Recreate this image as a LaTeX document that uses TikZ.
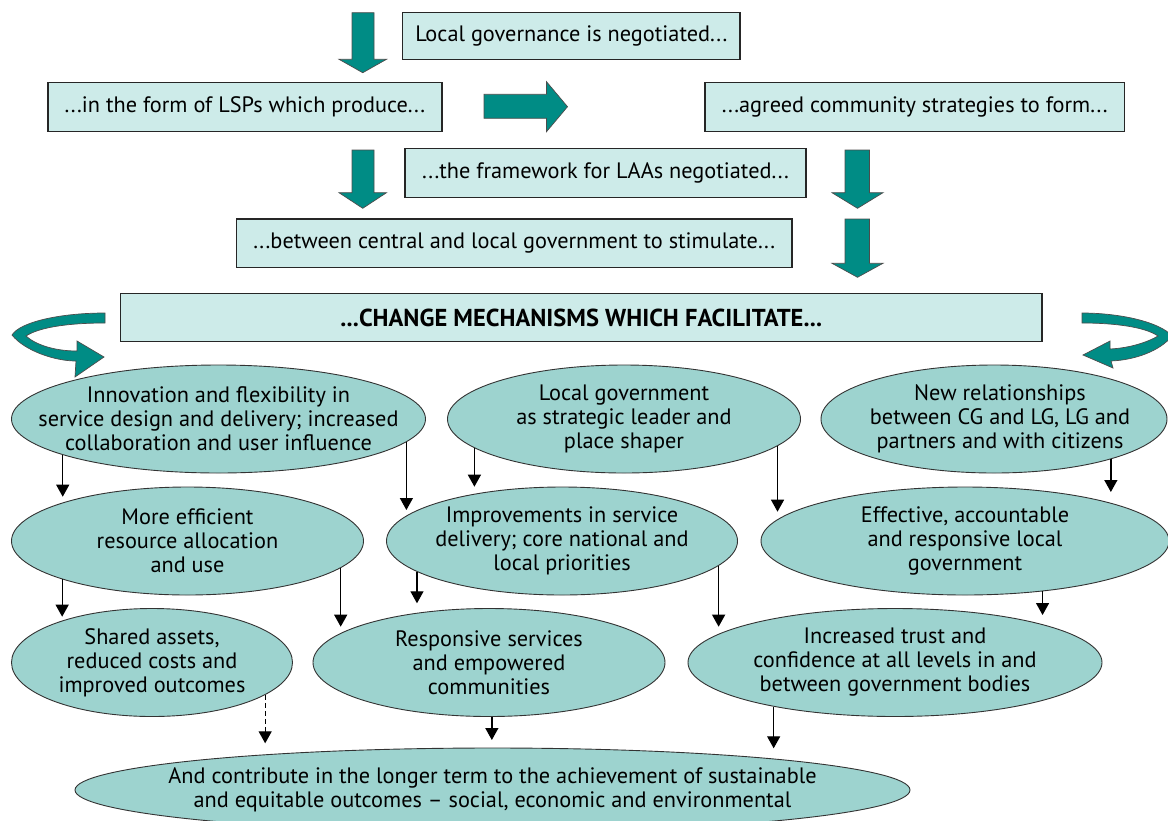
\documentclass[tikz,border=0pt]{standalone}
\usepackage{fontspec}
\setmainfont{PT Sans}
\usetikzlibrary{arrows.meta,shapes.geometric}
\definecolor{boxfill}{RGB}{205,235,233}
\definecolor{ellfill}{RGB}{157,211,207}
\definecolor{tealarrow}{RGB}{0,140,133}
\newcommand\tealdown[7]{\filldraw[blk] (#1,#5) -- (#2,#5) -- (#2,#6) -- (#4,#6) -- ({(#3+#4)/2},#7) -- (#3,#6) -- (#1,#6) -- cycle;}
\begin{document}
\begin{tikzpicture}[x=1pt,y=-1pt,
  txt/.style={font=\fontsize{22.3}{24}\selectfont, align=center, inner sep=0pt},
  box/.style={rectangle, draw=black!85, line width=1.4pt, fill=boxfill, inner sep=0pt},
  ell/.style={ellipse, draw=black!80, line width=0.9pt, fill=ellfill, inner sep=0pt},
  arr/.style={line width=1.3pt, -{Triangle[width=13pt,length=12pt]}},
  blk/.style={fill=tealarrow, draw=black!70, line width=0.7pt, line join=miter}]
\useasboundingbox (0,0) rectangle (1168,820);

% boxes
\node[box, minimum width=337.4pt, minimum height=46.6pt] (b1) at (571.3,36) {};
\node[txt] at (b1) {Local governance is negotiated...};
\node[box, minimum width=394.2pt, minimum height=49pt] (b2) at (244.9,107.2) {};
\node[txt] at (b2) {...in the form of LSPs which produce...};
\node[box, minimum width=419.5pt, minimum height=49pt] (b4) at (914.75,107.2) {};
\node[txt] at (b4) {...agreed community strategies to form...};
\node[box, minimum width=401pt, minimum height=49pt] (b5) at (605.5,173.2) {};
\node[txt] at (b5) {...the framework for LAAs negotiated...};
\node[box, minimum width=555.5pt, minimum height=48.7pt] (b6) at (514.25,243.35) {};
\node[txt] at (b6) {...between central and local government to stimulate...};
\node[box, minimum width=921.5pt, minimum height=48.4pt] (b7) at (581.25,317.5) {};
\node[txt, font=\fontsize{24.5}{26}\selectfont\bfseries] at (b7) {...CHANGE MECHANISMS WHICH FACILITATE...};

% teal block arrows
\tealdown{352}{374}{339}{386.5}{12.7}{59.3}{72.7}
\tealdown{352}{374}{339}{386.5}{150}{192.7}{208.3}
\tealdown{845}{869.5}{832}{883}{150}{192.7}{208.3}
\tealdown{845}{869.5}{832}{883}{219}{263.3}{277.3}
\filldraw[blk] (484,94.3) -- (546.5,94.3) -- (546.5,81.7) -- (567.5,106.7) -- (546.5,131.7) -- (546.5,118.3) -- (484,118.3) -- cycle;

% curved arrows
\filldraw[blk] (105,313) .. controls (60,313) and (20,322) .. (12,335)
  .. controls (25,351) and (55,361) .. (76,361) -- (75,377) -- (104,357) -- (77,341) -- (77,351)
  .. controls (55,351) and (36,345) .. (26,336)
  .. controls (38,328) and (65,323) .. (105,323) -- cycle;
\filldraw[blk] (1082,313) .. controls (1120,313) and (1160,322) .. (1172,336)
  .. controls (1160,351) and (1135,360) .. (1111,361) -- (1113,368) -- (1083,355) -- (1110,341) -- (1110,349)
  .. controls (1130,348) and (1148,342) .. (1158,336)
  .. controls (1145,327) and (1115,323) .. (1082,323) -- cycle;

% ellipses
\node[ell, minimum width=414pt, minimum height=108pt] (e1) at (218.5,419) {};
\node[txt] at (e1) {Innovation and flexibility in\\service design and delivery; increased\\collaboration and user influence};
\node[ell, minimum width=353pt, minimum height=108pt] (e2) at (624,419) {};
\node[txt] at (e2) {Local government\\as strategic leader and\\place shaper};
\node[ell, minimum width=346pt, minimum height=108pt] (e3) at (994,419) {};
\node[txt] at ([xshift=6pt]e3) {New relationships\\between CG and LG, LG and\\partners and with citizens};
\node[ell, minimum width=352pt, minimum height=108pt] (e4) at (187.5,541) {};
\node[txt] at (e4) {More efficient\\resource allocation\\and use};
\node[ell, minimum width=351pt, minimum height=108pt] (e5) at (562,541) {};
\node[txt] at (e5) {Improvements in service\\delivery; core national and\\local priorities};
\node[ell, minimum width=408pt, minimum height=108pt] (e6) at (965,541) {};
\node[txt] at (e6) {Effective, accountable\\and responsive local\\government};
\node[ell, minimum width=281pt, minimum height=108pt] (e7) at (152,662.5) {};
\node[txt] at (e7) {Shared assets,\\reduced costs and\\improved outcomes};
\node[ell, minimum width=352pt, minimum height=108pt] (e8) at (489,662.5) {};
\node[txt] at (e8) {Responsive services\\and empowered\\communities};
\node[ell, minimum width=414pt, minimum height=108pt] (e9) at (895,662.5) {};
\node[txt] at (e9) {Increased trust and\\confidence at all levels in and\\between government bodies};
\node[ell, minimum width=835pt, minimum height=84pt] (e10) at (492.5,790) {};
\node[txt] at (e10) {And contribute in the longer term to the achievement of sustainable\\and equitable outcomes -- social, economic and environmental};

% connectors
\draw[arr] (e1.-167.4) -- (e1.-167.4 |- 0,496.7);
\draw[arr] (e1.-7.95) -- (e1.-7.95 |- 0,510);
\draw[arr] (e2.-169.6) -- (e2.-169.6 |- 0,486.7);
\draw[arr] (e2.-10.35) -- (e2.-10.35 |- 0,511.7);
\draw[arr] (e3.-19) -- (e3.-19 |- 0,492);
\draw[arr] (e4.-163.9) -- (e4.-163.9 |- 0,616.7);
\draw[arr] (e4.-10.84) -- (e4.-10.84 |- 0,626.7);
\draw[arr] (e5.-168.2) -- (e5.-168.2 |- 0,603.3);
\draw[arr] (e5.-9.64) -- (e5.-9.64 |- 0,626.7);
\draw[arr] (e6.-33.6) -- (e6.-33.6 |- 0,615);
\draw[arr, dash pattern=on 5pt off 3pt] (e7.-16.47) -- (e7.-16.47 |- 0,743.3);
\draw[arr] (e8.-87.1) -- (e8.-87.1 |- 0,740);
\draw[arr] (e9.-160.8) -- (e9.-160.8 |- 0,748.3);
\end{tikzpicture}
\end{document}
